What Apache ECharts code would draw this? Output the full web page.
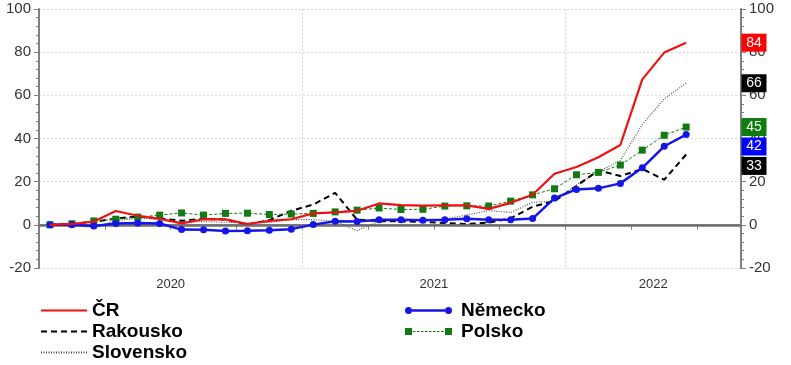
<!DOCTYPE html>
<html><head><meta charset="utf-8">
<script src="https://cdn.jsdelivr.net/npm/echarts@6/dist/echarts.min.js"></script>
<style>html,body{margin:0;padding:0;background:#fff}#c{width:791px;height:365px}</style>
</head><body><div id="c"></div>
<script>
// ---- data ----
const months = ['2020-01','2020-02','2020-03','2020-04','2020-05','2020-06','2020-07','2020-08','2020-09','2020-10','2020-11','2020-12',
  '2021-01','2021-02','2021-03','2021-04','2021-05','2021-06','2021-07','2021-08','2021-09','2021-10','2021-11','2021-12',
  '2022-01','2022-02','2022-03','2022-04','2022-05','2022-06','2022-07','2022-08'];
const years = ['2020','2021','2022'];
const seriesNames = ['ČR','Rakousko','Slovensko','Německo','Polsko'];
const cr        = [0,0.4,1.5,6.4,4.2,2.8,0.7,2.6,2.5,0.4,1.8,2.6,5.3,5.8,6.5,9.9,9.1,8.9,9.0,9.0,7.4,10.2,13.9,23.7,26.8,31.3,37.0,67.4,79.8,84.4];
const rakousko  = [0,0.5,1.4,2.9,3.9,3.0,1.9,2.8,2.5,0.1,2.2,6.5,9.4,14.8,2.4,1.7,1.6,1.4,0.8,0.4,1.0,3.0,8.4,11.0,18.0,25.2,22.6,25.9,20.9,32.6];
const slovensko = [0,-0.6,-1.0,1.8,3.2,2.5,1.2,1.5,1.2,0.8,1.1,2.4,2.4,1.6,-2.7,1.6,1.9,2.0,2.6,4.6,6.6,5.7,10.4,11.0,18.5,24.6,29.8,46.5,58.4,65.6];
const nemecko   = [0,0,-0.5,0.6,0.9,0.6,-2.2,-2.3,-2.8,-2.7,-2.5,-2.0,0.1,1.7,1.6,2.3,2.3,2.1,2.3,2.8,2.3,2.3,2.9,12.4,16.4,16.9,19.2,26.4,36.4,41.8];
const polsko    = [0,0.5,1.8,2.6,3.6,4.5,5.5,4.5,5.3,5.4,4.8,5.0,5.3,6.0,6.8,7.8,7.1,7.2,8.7,8.8,8.7,11.0,13.9,16.7,23.2,24.3,27.7,34.6,41.5,45.3];

// ---- styling ----
const FONT = 'Arial, "Liberation Sans", sans-serif';
const AX = '#808080';
const styles = {
  'ČR':       {data: cr,        color:'#ee1111', box:'#ff0000', width:2.2, type:'solid', symbol:'none'},
  'Rakousko': {data: rakousko,  color:'#000000', box:'#000000', width:2,   type:[6,4],  symbol:'none'},
  'Slovensko':{data: slovensko, color:'#444444', box:'#000000', width:1.1, type:[1,1.5],symbol:'none'},
  'Německo':  {data: nemecko,   color:'#1515e8', box:'#0000ff', width:2.5, type:'solid', symbol:'circle'},
  'Polsko':   {data: polsko,    color:'#127a12', box:'#0a7d0a', width:1,   type:[3,2],  symbol:'rect'}
};

// end-label positions: push apart overlapping boxes (in value units)
const GAP = 9;
const order = seriesNames.slice().sort((a,b)=>styles[b].data.at(-1)-styles[a].data.at(-1));
const labelPos = {};
let prev = Infinity;
order.forEach(n=>{ const v = styles[n].data.at(-1); const p = Math.min(v, prev-GAP); labelPos[n]=p; prev=p; });

// year label centres (in month units)
const yearCentre = {};
years.forEach(y=>{
  const idx = months.map((m,i)=>m.startsWith(y)?i:-1).filter(i=>i>=0);
  yearCentre[(idx[0]+idx[idx.length-1]+1)/2] = y;
});

const drawOrder = ['Slovensko','Rakousko','Polsko','Německo','ČR'];
const series = drawOrder.map((n,k)=>{
  const s = styles[n];
  const last = s.data.at(-1);
  const o = {
    name:n, type:'line', xAxisIndex:1, yAxisIndex:0,
    data: s.data.map((v,i)=>[i+0.5,v]),
    symbol: s.symbol, symbolSize:7, showSymbol: s.symbol!=='none',
    itemStyle:{color:s.color},
    lineStyle:{color:s.color, width:s.width, type:s.type},
    z: 3+k,
    markPoint:{
      symbol:'rect', symbolSize:[25,18], symbolOffset:[13,0], silent:true,
      itemStyle:{color:s.box},
      label:{show:true, color:'#fff', fontSize:14, fontFamily:FONT, formatter: String(Math.round(last))},
      data:[{coord:[months.length, labelPos[n]]}]
    }
  };
  if (k===0) {
    o.markLine = {silent:true, symbol:'none', label:{show:false},
      lineStyle:{color:'#6e6e6e', width:2.5, type:'solid'}, data:[{yAxis:0}]};
  }
  return o;
});

function dashPath() {
  let p = 'path://M0,0.5h7v7h-7ZM40,0.5h7v7h-7Z';
  for (let x=8; x<39; x+=4) p += 'M'+x+',3.5h'+Math.min(2.5,39-x)+'v1h-'+Math.min(2.5,39-x)+'Z';
  return p;
}
const circPath = 'path://M0,4A3.5,3.5,0,1,1,7,4A3.5,3.5,0,1,1,0,4ZM7,2.8H40V5.2H7ZM40,4A3.5,3.5,0,1,1,47,4A3.5,3.5,0,1,1,40,4Z';

const legendText = {fontSize:19, fontWeight:'bold', color:'#000', fontFamily:FONT, lineHeight:19};
const yAxisBase = {
  type:'value', min:-20, max:100, interval:20,
  axisLine:{show:true, lineStyle:{color:AX, width:2}},
  axisTick:{show:true, length:5, lineStyle:{color:AX}},
  minorTick:{show:true, splitNumber:5, length:3, lineStyle:{color:AX}},
  axisLabel:{fontSize:15, color:'#333', margin:8, fontFamily:FONT}
};

const option = {
  animation:false,
  backgroundColor:'#fff',
  grid:{left:39, right:50, top:9, bottom:97, outerBoundsMode:'none'},
  xAxis:[
    {type:'category', data:months, boundaryGap:true, position:'bottom',
     axisLine:{show:true, lineStyle:{color:AX, width:1.5}},
     axisTick:{show:true, length:5, interval:(i)=>i%3===0, lineStyle:{color:AX}},
     axisLabel:{show:false},
     splitLine:{show:true, interval:(i)=>i%12===0 && i>0, lineStyle:{color:'#dadada', type:[2,2]}}},
    {type:'value', min:0, max:months.length, interval:2, position:'bottom',
     axisLine:{show:false}, axisTick:{show:false}, splitLine:{show:false},
     axisLabel:{show:true, margin:10, fontSize:13, color:'#333', fontFamily:FONT,
       formatter:(v)=>yearCentre[v]||''}}
  ],
  yAxis:[
    Object.assign({}, yAxisBase, {position:'left', splitLine:{show:true, lineStyle:{color:'#dadada', type:[2,2]}}}),
    Object.assign({}, yAxisBase, {position:'right', splitLine:{show:false}})
  ],
  legend:[
    {left:40, top:301, padding:0, orient:'vertical', itemWidth:46, itemHeight:10, itemGap:2, height:64,
     textStyle:legendText, selectedMode:false,
     data:['ČR','Rakousko','Slovensko'].map(n=>({name:n, itemStyle:{opacity:0}}))},
    {left:405, top:301, padding:0, orient:'vertical', itemWidth:47, itemHeight:7, itemGap:2, height:64,
     textStyle:Object.assign({padding:[0,0,0,4]}, legendText), selectedMode:false,
     data:[{name:'Německo', icon:circPath}, {name:'Polsko', icon:dashPath()}]}
  ],
  series:series
};
const chart = echarts.init(document.getElementById('c'), null, {renderer:'canvas'});
chart.setOption(option);
</script></body></html>
